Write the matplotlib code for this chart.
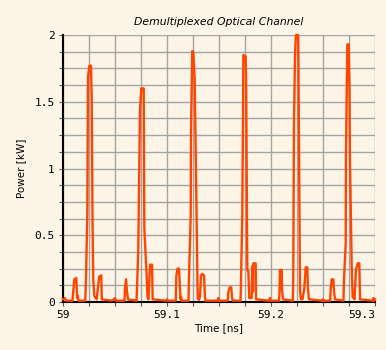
import matplotlib
matplotlib.use("Agg")
import matplotlib.pyplot as plt
from matplotlib.ticker import MultipleLocator

time_ns = [
    59.0000, 59.0005, 59.0019, 59.0029, 59.0091, 59.0099, 59.0109, 59.0128, 59.0135, 59.0141,
    59.0149, 59.0214, 59.0221, 59.0234, 59.0240, 59.0253, 59.0269, 59.0276, 59.0284, 59.0291,
    59.0301, 59.0324, 59.0339, 59.0349, 59.0368, 59.0373, 59.0471, 59.0490, 59.0500, 59.0510,
    59.0591, 59.0596, 59.0606, 59.0615, 59.0625,
    59.0707, 59.0714, 59.0724, 59.0740, 59.0753, 59.0776, 59.0782, 59.0805, 59.0812, 59.0822,
    59.0830, 59.0837, 59.0856, 59.0862, 59.0990, 59.1000, 59.1010,
    59.1085, 59.1089, 59.1101, 59.1115, 59.1125, 59.1130, 59.1135, 59.1141, 59.1207, 59.1211,
    59.1228, 59.1231, 59.1243, 59.1253, 59.1266, 59.1276, 59.1286, 59.1295, 59.1308, 59.1317,
    59.1327, 59.1339, 59.1356, 59.1365, 59.1370, 59.1486, 59.1493, 59.1500,
    59.1585, 59.1589, 59.1603, 59.1618, 59.1625, 59.1632, 59.1707, 59.1711, 59.1724, 59.1731,
    59.1734, 59.1757, 59.1762, 59.1772, 59.1782, 59.1791, 59.1814, 59.1820, 59.1827, 59.1830,
    59.1853, 59.1856, 59.1981, 59.1990, 59.2000,
    59.2077, 59.2082, 59.2086, 59.2103, 59.2106, 59.2115, 59.2210, 59.2214, 59.2221, 59.2231,
    59.2240, 59.2262, 59.2269, 59.2274, 59.2279, 59.2288, 59.2303, 59.2320, 59.2334, 59.2349,
    59.2356, 59.2365, 59.2490, 59.2497, 59.2505,
    59.2569, 59.2574, 59.2584, 59.2599, 59.2606, 59.2615, 59.2697, 59.2702, 59.2718, 59.2721,
    59.2734, 59.2747, 59.2755, 59.2759, 59.2769, 59.2776, 59.2785, 59.2803, 59.2817, 59.2834,
    59.2849, 59.2856, 59.2981, 59.2985, 59.2995, 59.3000,
]
power_kw = [
    0.02, 0.02, 0.03, 0.01, 0.01, 0.08, 0.17, 0.18, 0.03, 0.05,
    0.01, 0.01, 0.165, 0.67, 1.68, 1.77, 1.77, 1.54, 0.60, 0.17,
    0.045, 0.02, 0.13, 0.19, 0.20, 0.02, 0.01, 0.02, 0.03, 0.01,
    0.01, 0.10, 0.17, 0.08, 0.02,
    0.01, 0.16, 0.40, 1.44, 1.60, 1.60, 0.55, 0.19, 0.04, 0.02,
    0.15, 0.28, 0.28, 0.02, 0.01, 0.02, 0.01,
    0.01, 0.19, 0.25, 0.25, 0.09, 0.02, 0.04, 0.01, 0.01, 0.17,
    0.65, 1.28, 1.88, 1.87, 1.67, 1.13, 0.53, 0.03, 0.015, 0.04,
    0.20, 0.21, 0.20, 0.04, 0.01, 0.01, 0.03, 0.01,
    0.01, 0.07, 0.11, 0.11, 0.03, 0.01, 0.01, 0.13, 0.66, 1.41,
    1.85, 1.84, 1.55, 0.24, 0.23, 0.03, 0.03, 0.27, 0.08, 0.29,
    0.29, 0.02, 0.01, 0.03, 0.01,
    0.01, 0.07, 0.24, 0.24, 0.09, 0.02, 0.01, 0.18, 1.33, 1.86,
    2.00, 2.00, 1.22, 0.66, 0.08, 0.02, 0.02, 0.10, 0.26, 0.26,
    0.09, 0.02, 0.01, 0.02, 0.01,
    0.01, 0.10, 0.17, 0.17, 0.08, 0.02, 0.01, 0.17, 0.43, 1.12,
    1.93, 1.93, 1.60, 1.08, 0.61, 0.26, 0.04, 0.02, 0.24, 0.29,
    0.29, 0.02, 0.01, 0.03, 0.01, 0.02,
]

x_ticks = [59.0, 59.1, 59.2, 59.3]
x_labels = ['59', '59.1', '59.2', '59.3']
y_ticks = [0, 0.5, 1, 1.5, 2]
y_labels = ['0', '0.5', '1', '1.5', '2']

bg = '#fcf5e7'
fig = plt.figure(figsize=(3.86, 3.5), dpi=100, facecolor=bg)
ax = fig.add_axes([0.1632, 0.1371, 0.8083, 0.7629], facecolor=bg)

ax.plot(time_ns, power_kw, color='#ff4500', lw=1.7, zorder=3, clip_on=False)

ax.set_xlim(59.0, 59.3)
ax.set_ylim(0, 2)
ax.set_xticks(x_ticks, x_labels, family='DejaVu Sans Mono')
ax.set_yticks(y_ticks, y_labels, family='DejaVu Sans Mono')
ax.xaxis.set_minor_locator(MultipleLocator(0.025))
ax.yaxis.set_minor_locator(MultipleLocator(0.125))

ax.grid(True, which='both', color='#a4a4a4', lw=1.0, zorder=1)
ax.set_axisbelow(True)
ax.tick_params(which='both', direction='out', length=3, width=0.8, color='#555555',
               labelsize=8, pad=3)

# last time label sits inside the figure edge
ax.get_xticklabels()[-1].set_horizontalalignment('right')

for s in ['top', 'right']:
    ax.spines[s].set_visible(False)
for s in ['left', 'bottom']:
    ax.spines[s].set_linewidth(1.5)
    ax.spines[s].set_color('black')

ax.set_title('Demultiplexed Optical Channel', fontsize=7.8, style='italic', pad=7)
ax.set_xlabel('Time [ns]', fontsize=7.5, labelpad=2)
ax.set_ylabel('Power [kW]', fontsize=7.5, labelpad=6)

fig.savefig('out.png', dpi=100, facecolor=bg)
